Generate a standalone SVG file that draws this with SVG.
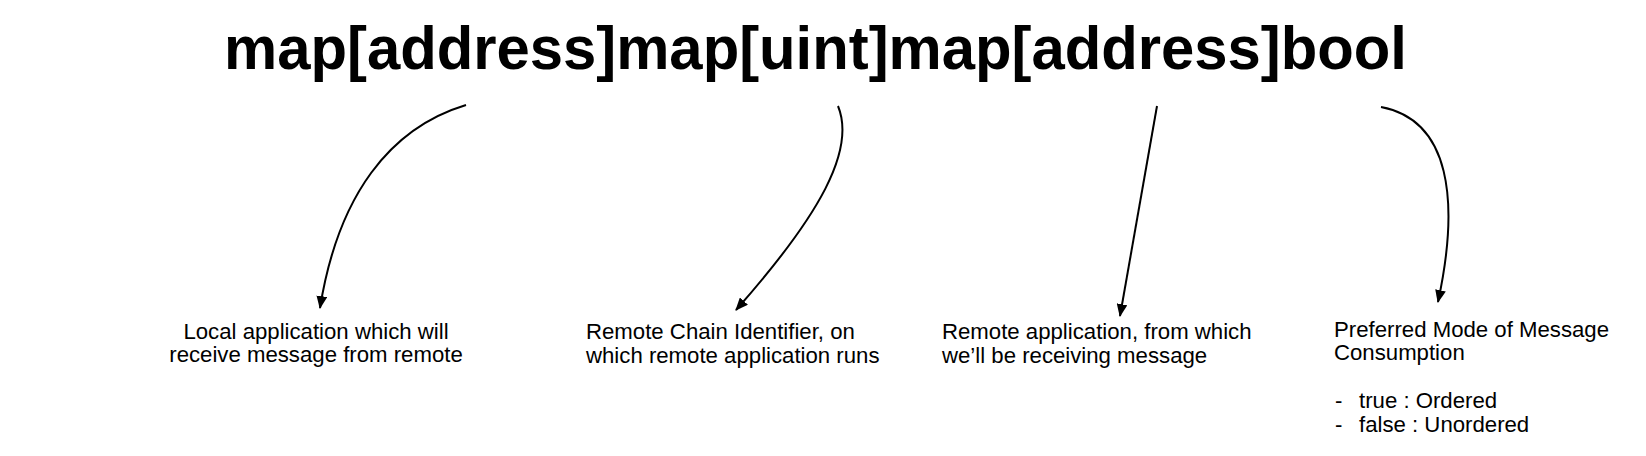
<svg xmlns="http://www.w3.org/2000/svg" width="1646" height="456" viewBox="0 0 1646 456">
<style>
.title{font-family:"Liberation Sans",Arial,sans-serif;font-weight:bold;font-size:61px;fill:#000}
.lbl{font-family:"Liberation Sans",Arial,sans-serif;font-size:22.2px;fill:#000}
.conn{fill:none;stroke:#000;stroke-width:2}
</style>
<defs>
<marker id="ah" viewBox="0 0 12 10" refX="11" refY="5" markerWidth="13" markerHeight="11" markerUnits="userSpaceOnUse" orient="auto">
<path d="M0,0 L12,5 L0,10 Z" fill="#000"/>
</marker>
</defs>
<rect width="1646" height="456" fill="#fff"/>
<g id="title">
<text class="title" x="224" y="69" textLength="1183" lengthAdjust="spacingAndGlyphs">map[address]map[uint]map[address]bool</text>
</g>
<g id="connectors">
<path class="conn" d="M466,105 C390,128 338,195 320,308" marker-end="url(#ah)"/>
<path class="conn" d="M838,106 C856,150 820,215 736,310" marker-end="url(#ah)"/>
<path class="conn" d="M1157,106 L1120,316" marker-end="url(#ah)"/>
<path class="conn" d="M1381,107 C1450,120 1460,200 1438,302" marker-end="url(#ah)"/>
</g>
<g id="node-local">
<text class="lbl" x="316" y="339" text-anchor="middle">Local application which will</text>
<text class="lbl" x="316" y="362" text-anchor="middle">receive message from remote</text>
</g>
<g id="node-chain">
<text class="lbl" x="586" y="339">Remote Chain Identifier, on</text>
<text class="lbl" x="586" y="363">which remote application runs</text>
</g>
<g id="node-remote">
<text class="lbl" x="942" y="339">Remote application, from which</text>
<text class="lbl" x="942" y="363">we’ll be receiving message</text>
</g>
<g id="node-mode">
<text class="lbl" x="1334" y="337">Preferred Mode of Message</text>
<text class="lbl" x="1334" y="360">Consumption</text>
<text class="lbl" x="1335" y="408">-</text>
<text class="lbl" x="1359" y="408">true : Ordered</text>
<text class="lbl" x="1335" y="432">-</text>
<text class="lbl" x="1359" y="432">false : Unordered</text>
</g>
</svg>
